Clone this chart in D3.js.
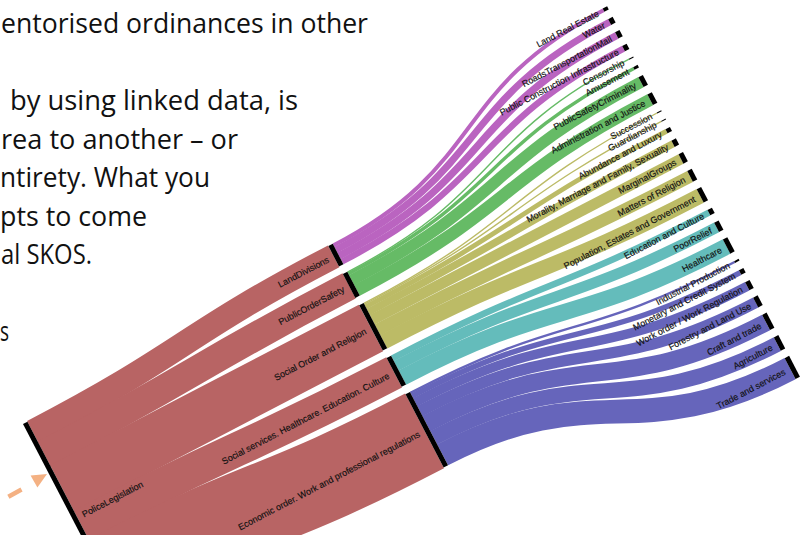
<!DOCTYPE html>
<html><head><meta charset="utf-8">
<script src="https://cdn.jsdelivr.net/npm/d3@7"></script>
<style>body{margin:0;background:#fff;} svg{display:block;}</style>
</head><body>
<svg id="c" width="800" height="535"></svg>
<script>
// ---- data ----
const slideLines = ["entorised ordinances in other", "by using linked data, is", "rea to another \u2013 or", "ntirety. What you", "pts to come", "al SKOS.", "s"];
const rootName = "PoliceLegislation";
const groupNames = ["LandDivisions", "PublicOrderSafety", "Social Order and Religion",
  "Social services. Healthcare. Education. Culture", "Economic order. Work and professional regulations"];
const leafNames = ["Land Real Estate", "Water", "RoadsTransportationMail", "Public Construction Infrastructure",
  "Censorship", "Amusement", "PublicSafetyCriminality", "Administration and Justice",
  "Succession", "Guardianship", "Abundance and Luxury", "Morality, Marriage and Family, Sexuality", "MarginalGroups", "Matters of Religion", "Population, Estates and Government",
  "Education and Culture", "PoorRelief", "Healthcare",
  "Industrial Production", "Monetary and Credit System", "Work order / Work Regulation", "Forestry and Land Use", "Craft and trade", "Agriculture", "Trade and services"];
const leafGroup = [0,0,0,0, 1,1,1,1, 2,2,2,2,2,2,2, 3,3,3, 4,4,4,4,4,4,4];
const leafValues = [3.5,6.5,7,6, 1,3,11,12, 1,1,4.5,7,10.5,12,15, 6,10.5,16, 2,5,9,11,17,15,23.5];

// ---- styles / layout ----
const rootColor = "#b86464";
const groupColors = ["#ba64c0", "#66bb66", "#bcbb66", "#64bcbb", "#6665bb"];
const lineIndex = [0, 2, 3, 4, 5, 6, 8];
const lineX0 = [1, 10, 1, 0, 0, 1, 0];
const lineX1 = [368, 298, 238, 210, 147, 92, 9];

const svg = d3.select("#c");
svg.append("rect").attr("width", 800).attr("height", 535).attr("fill", "#fff");

// slide text
const yLine = d3.scaleLinear().domain([0, 8]).range([33.3, 340.9]);
svg.append("g").selectAll("text").data(slideLines).join("text")
  .attr("x", (d, i) => lineX0[i])
  .attr("y", (d, i) => yLine(lineIndex[i]))
  .attr("textLength", (d, i) => lineX1[i] - lineX0[i])
  .attr("lengthAdjust", "spacingAndGlyphs")
  .attr("font-family", "'Open Sans', Lato, sans-serif")
  .attr("font-size", 28)
  .attr("fill", "#111")
  .text(d => d);

// orange dashed arrow
const arr = svg.append("g");
arr.append("path").attr("d", "M21.5,489.5 L-30,518")
  .attr("stroke", "#f4b183").attr("stroke-width", 4.5).attr("fill", "none")
  .attr("stroke-dasharray", "15,12");
arr.append("path").attr("d", "M47,474 L30.6,475.4 L37.4,487.6 Z").attr("fill", "#f4b183");

// ---- sankey layout ----
const total = d3.sum(leafValues);
const groupValues = groupNames.map((g, i) => d3.sum(leafValues.filter((v, j) => leafGroup[j] === i)));
const H = 216;
const ky = d3.scaleLinear().domain([0, total]).range([0, H]);
const gap = 8.4;
const colX = d3.scaleLinear().domain([0, 2]).range([0, 706]);
const nodeW = 5;
const C = H / 2;
function stack(values) {
  const span = d3.sum(values, v => ky(v)) + (values.length - 1) * gap;
  let y = C - span / 2;
  return values.map(v => { const y0 = y; y += ky(v); const r = {y0, y1: y}; y += gap; return r; });
}
const rootNode = {name: rootName, x0: colX(0), y0: 0, y1: ky(total)};
const groupNodes = stack(groupValues).map((r, i) => ({...r, name: groupNames[i], x0: colX(1)}));
const leafNodes = stack(leafValues).map((r, i) => ({...r, name: leafNames[i], x0: colX(2)}));

const links = [];
let ry = rootNode.y0;
groupValues.forEach((v, i) => {
  const w = ky(v);
  links.push({sx: rootNode.x0 + nodeW, sy: ry + w / 2, tx: groupNodes[i].x0, ty: groupNodes[i].y0 + w / 2, w, extra: 1.6, color: rootColor});
  ry += w;
});
const gy = groupNodes.map(n => n.y0);
leafValues.forEach((v, j) => {
  const g = leafGroup[j];
  const w = ky(v);
  links.push({sx: groupNodes[g].x0 + nodeW, sy: gy[g] + w / 2, tx: leafNodes[j].x0, ty: leafNodes[j].y0 + w / 2, w, extra: 0.4, color: groupColors[g]});
  gy[g] += w;
});

const G = svg.append("g").attr("transform", "translate(23,424) rotate(-27.5)");
const lh = d3.linkHorizontal().source(d => [d.sx, d.sy]).target(d => [d.tx, d.ty]);
G.append("g").attr("fill", "none").selectAll("path").data(links).join("path")
  .attr("d", lh).attr("stroke", d => d.color).attr("stroke-width", d => Math.max(1, d.w + d.extra));

const allNodes = [rootNode, ...groupNodes, ...leafNodes];
G.append("g").selectAll("rect").data(allNodes).join("rect")
  .attr("x", d => d.x0).attr("y", d => d.y0)
  .attr("width", nodeW).attr("height", d => Math.max(1, d.y1 - d.y0))
  .attr("fill", "#000");

const lab = G.append("g").attr("font-family", "'Liberation Sans', Arial, sans-serif")
  .attr("font-size", 9).attr("fill", "#111").attr("stroke", "#111").attr("stroke-width", 0.15);
lab.append("text").attr("x", rootNode.x0 + nodeW + 6).attr("y", (rootNode.y0 + rootNode.y1) / 2)
  .attr("dy", "0.35em").text(rootNode.name);
lab.selectAll("text.m").data([...groupNodes, ...leafNodes]).join("text").attr("class", "m")
  .attr("x", d => d.x0 - 6).attr("y", d => (d.y0 + d.y1) / 2)
  .attr("dy", "0.35em").attr("text-anchor", "end").text(d => d.name);
</script>
</body></html>
